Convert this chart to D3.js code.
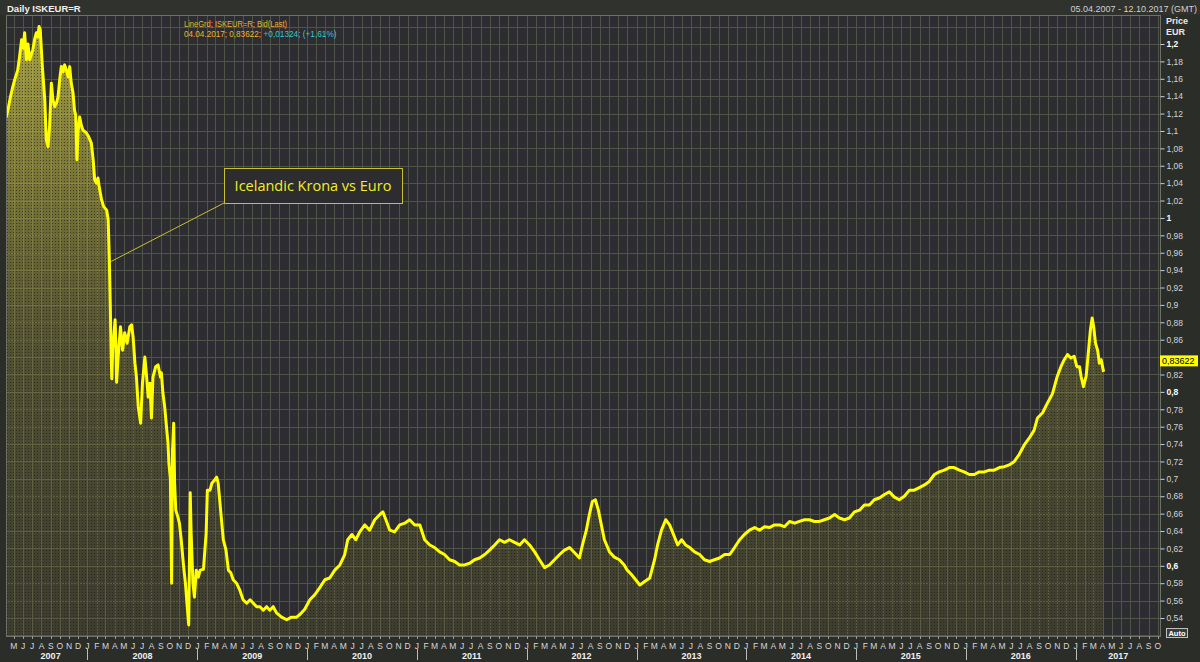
<!DOCTYPE html>
<html><head><meta charset="utf-8">
<script src="https://cdn.jsdelivr.net/npm/d3@7"></script>
<style>
html,body{margin:0;padding:0;background:#2b2d29;}
svg{display:block;}
</style></head><body>
<svg id="chart" width="1200" height="662"></svg>
<script>
// ---------- DATA ----------
const dates = [
"2007-04-05","2007-04-12","2007-04-19","2007-04-27","2007-05-04","2007-05-14","2007-05-20","2007-05-27","2007-06-01","2007-06-06",
"2007-06-12","2007-06-17","2007-06-23","2007-07-03","2007-07-09","2007-07-15","2007-07-20","2007-07-24","2007-07-28","2007-08-04",
"2007-08-12","2007-08-17","2007-08-23","2007-08-28","2007-09-03","2007-09-08","2007-09-14","2007-09-20","2007-09-25","2007-10-01",
"2007-10-06","2007-10-12","2007-10-17","2007-10-23","2007-10-29","2007-11-03","2007-11-08","2007-11-14","2007-11-19","2007-11-23",
"2007-11-27","2007-12-01","2007-12-06","2007-12-12","2007-12-17","2007-12-28","2008-01-04","2008-01-09","2008-01-14","2008-01-20",
"2008-01-25","2008-01-31","2008-02-05","2008-02-09","2008-02-17","2008-02-24","2008-03-05","2008-03-10","2008-03-14","2008-03-17",
"2008-03-20","2008-03-22","2008-03-25","2008-03-28","2008-04-02","2008-04-05","2008-04-07","2008-04-12","2008-04-20","2008-04-27",
"2008-05-04","2008-05-12","2008-05-21","2008-05-27","2008-06-01","2008-06-07","2008-06-12","2008-06-18","2008-06-26","2008-07-02",
"2008-07-10","2008-07-16","2008-07-21","2008-07-27","2008-08-01","2008-08-06","2008-08-15","2008-08-23","2008-08-31","2008-09-03",
"2008-09-08","2008-09-14","2008-09-20","2008-09-25","2008-09-28","2008-10-03","2008-10-07","2008-10-10","2008-10-14","2008-10-17",
"2008-10-21","2008-10-28","2008-11-02","2008-11-08","2008-11-16","2008-11-22","2008-11-27","2008-12-03","2008-12-08","2008-12-11",
"2008-12-17","2008-12-22","2008-12-28","2009-01-04","2009-01-10","2009-01-21","2009-01-30","2009-02-03","2009-02-12","2009-02-18",
"2009-02-28","2009-03-06","2009-03-11","2009-03-17","2009-03-23","2009-03-28","2009-04-06","2009-04-14","2009-04-22","2009-04-30",
"2009-05-11","2009-05-22","2009-06-02","2009-06-14","2009-06-25","2009-07-06","2009-07-17","2009-07-28","2009-08-08","2009-08-19",
"2009-08-30","2009-09-10","2009-09-21","2009-10-08","2009-10-25","2009-11-10","2009-11-27","2009-12-08","2009-12-24",
"2010-01-10","2010-01-27","2010-02-12","2010-03-01","2010-03-17","2010-04-03","2010-04-20","2010-05-06","2010-05-16","2010-05-30",
"2010-06-12","2010-06-25","2010-07-12","2010-07-28","2010-08-14","2010-08-31","2010-09-10","2010-09-20","2010-10-03","2010-10-19",
"2010-11-05","2010-11-22","2010-12-08","2010-12-25",
"2011-01-11","2011-01-27","2011-02-13","2011-03-01","2011-03-18","2011-04-03","2011-04-20","2011-05-07","2011-05-23","2011-06-09",
"2011-06-26","2011-07-12","2011-07-29","2011-08-15","2011-08-31","2011-09-17","2011-10-03","2011-10-20","2011-11-05","2011-11-22",
"2011-12-09","2011-12-25",
"2012-01-11","2012-01-28","2012-02-13","2012-03-01","2012-03-17","2012-04-03","2012-04-20","2012-05-06","2012-05-23","2012-06-09",
"2012-06-25","2012-07-05","2012-07-18","2012-07-28","2012-08-07","2012-08-17","2012-08-27","2012-09-06","2012-09-16","2012-10-03",
"2012-10-19","2012-11-05","2012-11-21","2012-12-01","2012-12-15","2012-12-29",
"2013-01-12","2013-01-28","2013-02-14","2013-03-02","2013-03-12","2013-03-25","2013-04-08","2013-04-21","2013-05-04","2013-05-18",
"2013-05-31","2013-06-13","2013-06-27","2013-07-13","2013-07-30","2013-08-15","2013-09-01","2013-09-17","2013-10-04","2013-10-21",
"2013-11-07","2013-11-23","2013-12-10","2013-12-26",
"2014-01-12","2014-01-29","2014-02-14","2014-03-03","2014-03-19","2014-04-05","2014-04-22","2014-05-08","2014-05-25","2014-06-11",
"2014-06-27","2014-07-14","2014-07-30","2014-08-16","2014-09-02","2014-09-18","2014-10-05","2014-10-22","2014-11-07","2014-11-24",
"2014-12-10","2014-12-27",
"2015-01-13","2015-01-29","2015-02-15","2015-03-03","2015-03-20","2015-04-06","2015-04-22","2015-05-09","2015-05-25","2015-06-11",
"2015-06-28","2015-07-14","2015-07-31","2015-08-17","2015-09-02","2015-09-19","2015-10-05","2015-10-22","2015-11-08","2015-11-24",
"2015-12-11","2015-12-27",
"2016-01-13","2016-01-30","2016-02-15","2016-03-03","2016-03-20","2016-04-05","2016-04-22","2016-05-09","2016-05-25","2016-06-11",
"2016-06-27","2016-07-14","2016-07-31","2016-08-16","2016-08-27","2016-09-13","2016-09-29","2016-10-16","2016-11-01","2016-11-13",
"2016-11-24","2016-12-05","2016-12-16","2016-12-27",
"2017-01-05","2017-01-14","2017-01-19","2017-01-27","2017-02-05","2017-02-13","2017-02-19","2017-02-25","2017-03-02","2017-03-08",
"2017-03-15","2017-03-21","2017-03-27","2017-04-04"
];
const values = [
1.115,1.125,1.138,1.150,1.159,1.170,1.185,1.205,1.195,1.213,
1.182,1.200,1.182,1.193,1.205,1.213,1.208,1.220,1.216,1.174,
1.136,1.090,1.082,1.105,1.155,1.136,1.128,1.132,1.139,1.160,
1.174,1.168,1.176,1.170,1.162,1.174,1.155,1.144,1.124,1.118,
1.067,1.100,1.116,1.106,1.101,1.098,1.094,1.090,1.086,1.067,
1.044,1.040,1.046,1.036,1.021,1.013,1.009,0.998,0.950,0.900,
0.840,0.815,0.850,0.860,0.883,0.850,0.811,0.840,0.875,0.848,
0.868,0.856,0.875,0.877,0.863,0.833,0.817,0.783,0.764,0.810,
0.840,0.817,0.794,0.810,0.770,0.817,0.829,0.831,0.817,0.822,
0.799,0.783,0.760,0.741,0.718,0.700,0.580,0.733,0.764,0.695,
0.664,0.656,0.649,0.630,0.599,0.580,0.557,0.532,0.684,0.638,
0.580,0.564,0.595,0.587,0.595,0.596,0.638,0.687,0.687,0.695,
0.699,0.702,0.695,0.672,0.649,0.630,0.618,0.595,0.592,0.584,
0.580,0.572,0.561,0.557,0.561,0.557,0.553,0.553,0.549,0.553,
0.549,0.553,0.546,0.541,0.538,0.541,0.541,0.544,0.550,
0.561,0.567,0.575,0.584,0.586,0.595,0.601,0.613,0.630,0.636,
0.630,0.639,0.647,0.641,0.653,0.659,0.662,0.653,0.641,0.639,
0.647,0.649,0.653,0.647,
0.647,0.630,0.624,0.621,0.616,0.613,0.607,0.605,0.601,0.601,
0.603,0.607,0.609,0.613,0.618,0.624,0.630,0.627,0.630,0.627,
0.624,0.630,
0.624,0.616,0.607,0.598,0.601,0.607,0.613,0.618,0.621,0.615,
0.609,0.624,0.641,0.659,0.674,0.676,0.664,0.647,0.630,0.616,
0.610,0.607,0.601,0.595,0.590,0.584,
0.578,0.582,0.586,0.607,0.624,0.641,0.653,0.647,0.636,0.624,
0.630,0.624,0.621,0.616,0.613,0.607,0.605,0.607,0.609,0.613,
0.613,0.621,0.630,0.636,
0.641,0.644,0.641,0.645,0.644,0.647,0.647,0.645,0.651,0.649,
0.651,0.653,0.653,0.651,0.651,0.653,0.655,0.659,0.655,0.653,
0.655,0.662,
0.664,0.670,0.670,0.676,0.678,0.682,0.685,0.679,0.676,0.680,
0.687,0.687,0.690,0.693,0.697,0.705,0.708,0.710,0.713,0.713,
0.710,0.708,
0.705,0.705,0.708,0.708,0.710,0.710,0.713,0.714,0.716,0.720,
0.728,0.739,0.747,0.756,0.770,0.776,0.787,0.798,0.818,0.829,
0.837,0.843,0.839,0.841,
0.829,0.829,0.818,0.806,0.818,0.848,0.871,0.885,0.875,0.856,
0.848,0.833,0.837,0.823
];
const yTickValues = [1.2,1.18,1.16,1.14,1.12,1.1,1.08,1.06,1.04,1.02,1,0.98,0.96,0.94,0.92,0.9,0.88,0.86,0.84,0.82,0.8,0.78,0.76,0.74,0.72,0.7,0.68,0.66,0.64,0.62,0.6,0.58,0.56,0.54];
const yBoldTicks = [1.2,1,0.8,0.6];
const monthLetters = ["J","F","M","A","M","J","J","A","S","O","N","D"];
const years = [2007,2008,2009,2010,2011,2012,2013,2014,2015,2016,2017];
const domainDates = ["2007-04-05","2017-10-12"];
const titleText = "Daily ISKEUR=R";
const rangeText = "05.04.2007 - 12.10.2017 (GMT)";
const legendLine1 = "LineGrd; ISKEUR=R; Bid(Last)";
const legendLine2a = "04.04.2017; 0,83622; ";
const legendLine2b = "+0,01324; (+1,61%)";
const lastValue = 0.83622;
const lastLabel = "0,83622";
const annotationText = "Icelandic Krona vs Euro";
const annotationTarget = ["2008-03-20", 0.95];

// ---------- LAYOUT ----------
const W = 1200, H = 662;
const plot = {left: 6, right: 1160, top: 15, bottom: 636};
const parse = d3.utcParse("%Y-%m-%d");
const data = dates.map((d, i) => ({date: parse(d), value: values[i]}));

const x = d3.scaleUtc().domain(domainDates.map(parse)).range([6, 1161]);
const y = d3.scaleLinear().domain([0.54, 1.2]).range([618, 44]);

const svg = d3.select("#chart");
const defs = svg.append("defs");

svg.append("rect").attr("width", W).attr("height", H).attr("fill", "#2b2d29");
svg.append("rect").attr("x", 0).attr("y", 0).attr("width", W).attr("height", 15).attr("fill", "#30322d");

// plot background
svg.append("rect").attr("x", plot.left).attr("y", plot.top)
  .attr("width", plot.right - plot.left).attr("height", plot.bottom - plot.top)
  .attr("fill", "#2d2c31");

defs.append("clipPath").attr("id", "plotClip").append("rect")
  .attr("x", plot.left).attr("y", plot.top)
  .attr("width", plot.right - plot.left).attr("height", plot.bottom - plot.top);

// grid
const gridG = svg.append("g").attr("clip-path", "url(#plotClip)").attr("shape-rendering", "crispEdges");
const monthTicks = x.ticks(d3.utcMonth.every(1));
gridG.selectAll("line.v").data(monthTicks).join("line")
  .attr("x1", d => Math.round(x(d)) + 0.5).attr("x2", d => Math.round(x(d)) + 0.5)
  .attr("y1", plot.top).attr("y2", plot.bottom)
  .attr("stroke", "#4f5449").attr("stroke-width", 1);
const gridVals = d3.range(26, 62).map(k => k * 0.02);
gridG.selectAll("line.h").data(gridVals).join("line")
  .attr("x1", plot.left).attr("x2", plot.right)
  .attr("y1", d => Math.round(y(d)) + 0.5).attr("y2", d => Math.round(y(d)) + 0.5)
  .attr("stroke", "#4f5449").attr("stroke-width", 1);

// fill gradient + dot texture
const grad = defs.append("linearGradient").attr("id", "areaGrad")
  .attr("gradientUnits", "userSpaceOnUse").attr("x1", 0).attr("x2", 0)
  .attr("y1", plot.top).attr("y2", plot.bottom);
[[0, "#dcd64a", 0.70], [0.25, "#bdb63e", 0.55], [0.55, "#929034", 0.36], [1, "#70702a", 0.24]]
  .forEach(s => grad.append("stop").attr("offset", s[0]).attr("stop-color", s[1]).attr("stop-opacity", s[2]));
const pat = defs.append("pattern").attr("id", "dots").attr("patternUnits", "userSpaceOnUse")
  .attr("width", 3).attr("height", 3);
pat.append("rect").attr("x", 1).attr("y", 1).attr("width", 1).attr("height", 1).attr("fill", "#1e1d18").attr("fill-opacity", 0.6);

const area = d3.area().x(d => x(d.date)).y0(plot.bottom).y1(d => y(d.value));
const line = d3.line().x(d => x(d.date)).y(d => y(d.value));
const plotG = svg.append("g").attr("clip-path", "url(#plotClip)");
plotG.append("path").datum(data).attr("d", area).attr("fill", "url(#areaGrad)");
plotG.append("path").datum(data).attr("d", area).attr("fill", "url(#dots)");
plotG.append("path").datum(data).attr("d", line).attr("fill", "none")
  .attr("stroke", "#ffff00").attr("stroke-width", 3).attr("stroke-linejoin", "round");

// plot frame
svg.append("rect").attr("x", plot.left + 0.5).attr("y", plot.top + 0.5)
  .attr("width", plot.right - plot.left).attr("height", plot.bottom - plot.top)
  .attr("fill", "none").attr("stroke", "#6e7168").attr("shape-rendering", "crispEdges");

// annotation
const ann = {x: 224, y: 168, w: 178, h: 35};
svg.append("line").attr("x1", ann.x).attr("y1", ann.y + ann.h)
  .attr("x2", x(parse(annotationTarget[0]))).attr("y2", y(annotationTarget[1]))
  .attr("stroke", "#c8c030").attr("stroke-width", 1);
svg.append("rect").attr("x", ann.x + 0.5).attr("y", ann.y + 0.5).attr("width", ann.w).attr("height", ann.h)
  .attr("fill", "#2d2c2f").attr("stroke", "#c8c030").attr("stroke-width", 1);
svg.append("text").attr("x", ann.x + ann.w / 2).attr("y", ann.y + ann.h / 2 + 5.5)
  .attr("text-anchor", "middle").attr("font-family", "'Open Sans', sans-serif").attr("font-size", 14.5)
  .attr("fill", "#f2ee2a").text(annotationText);

// header texts
const lf = "'Liberation Sans', Arial, sans-serif";
svg.append("text").attr("x", 7).attr("y", 11.5).attr("font-family", lf)
  .attr("font-size", 9.5).attr("font-weight", "bold").attr("fill", "#f0f0f0").text(titleText);
svg.append("text").attr("x", 1197).attr("y", 11.5).attr("text-anchor", "end")
  .attr("font-family", lf).attr("font-size", 9)
  .attr("fill", "#d0d0d0").text(rangeText);
svg.append("text").attr("x", 184).attr("y", 26.5).attr("font-family", lf).attr("font-size", 8.5)
  .attr("fill", "#eab52a").attr("textLength", 103).attr("lengthAdjust", "spacingAndGlyphs").text(legendLine1);
svg.append("text").attr("x", 184).attr("y", 37).attr("font-family", lf).attr("font-size", 8.5)
  .attr("fill", "#eab52a").attr("textLength", 77).attr("lengthAdjust", "spacingAndGlyphs").text(legendLine2a);
svg.append("text").attr("x", 263.5).attr("y", 37).attr("font-family", lf).attr("font-size", 8.5)
  .attr("fill", "#36c6d2").attr("textLength", 73).attr("lengthAdjust", "spacingAndGlyphs").text(legendLine2b);

// right axis (the tick label under the last-value tag is covered by it, as in the reference)
const ly = y(lastValue);
const fmt = v => Math.abs(y(v) - ly) < 7 ? "" : (+v.toFixed(2)).toString().replace(".", ",");
const yAxis = d3.axisRight(y).tickValues(yTickValues).tickSize(4).tickPadding(2).tickFormat(fmt);
const yg = svg.append("g").attr("transform", `translate(${plot.right + 0.5},0)`).call(yAxis);
yg.select(".domain").remove();
yg.selectAll(".tick line").attr("stroke", "#cfcfcf");
yg.selectAll(".tick text").attr("font-family", lf).attr("font-size", 8.5)
  .attr("fill", d => yBoldTicks.includes(d) ? "#ffffff" : "#d4d4d4")
  .attr("font-weight", d => yBoldTicks.includes(d) ? "bold" : "normal");
svg.append("text").attr("x", 1166).attr("y", 24).attr("font-family", lf).attr("font-size", 9)
  .attr("font-weight", "bold").attr("fill", "#e8e8e8").text("Price");
svg.append("text").attr("x", 1166).attr("y", 35).attr("font-family", lf).attr("font-size", 9)
  .attr("font-weight", "bold").attr("fill", "#e8e8e8").text("EUR");

// last value tag
svg.append("rect").attr("x", 1160).attr("y", ly - 5).attr("width", 38).attr("height", 11).attr("fill", "#ffff00");
svg.append("text").attr("x", 1162).attr("y", ly + 3.5).attr("font-family", lf).attr("font-size", 9)
  .attr("fill", "#000").text(lastLabel);

// Auto box
svg.append("rect").attr("x", 1166.5).attr("y", 628.5).attr("width", 21).attr("height", 9)
  .attr("fill", "#3a3c37").attr("stroke", "#bfbfbf");
svg.append("text").attr("x", 1177).attr("y", 636).attr("text-anchor", "middle").attr("font-family", lf)
  .attr("font-size", 7.5).attr("font-weight", "bold").attr("fill", "#ffffff").text("Auto");

// x axis: month ticks + letters
const xg = svg.append("g");
xg.selectAll("line.mt").data(monthTicks).join("line")
  .attr("x1", d => Math.round(x(d)) + 0.5).attr("x2", d => Math.round(x(d)) + 0.5)
  .attr("y1", plot.bottom).attr("y2", plot.bottom + 3).attr("stroke", "#9a9a9a").attr("shape-rendering", "crispEdges");
xg.selectAll("text.ml").data(monthTicks).join("text")
  .attr("x", d => x(d)).attr("y", 648.5).attr("text-anchor", "middle")
  .attr("font-family", lf).attr("font-size", 8.5).attr("fill", "#d8d8d8")
  .text(d => monthLetters[d.getUTCMonth()]);
// year separators and labels
const yearStarts = years.map(yr => new Date(Date.UTC(yr, 0, 1)));
xg.selectAll("line.ys").data(yearStarts.filter(d => x(d) > plot.left + 2)).join("line")
  .attr("x1", d => Math.round(x(d)) + 0.5).attr("x2", d => Math.round(x(d)) + 0.5)
  .attr("y1", 649).attr("y2", 660).attr("stroke", "#bcbcbc").attr("shape-rendering", "crispEdges");
xg.selectAll("text.yl").data(years).join("text")
  .attr("x", yr => {
    const s = Math.max(x(new Date(Date.UTC(yr, 0, 1))), x(monthTicks[0]));
    const e = Math.min(x(new Date(Date.UTC(yr + 1, 0, 1))), x.range()[1]);
    return (s + e) / 2;
  })
  .attr("y", 658.5).attr("text-anchor", "middle").attr("font-family", lf).attr("font-size", 9)
  .attr("font-weight", "bold").attr("fill", "#f0f0f0").text(yr => yr);
</script>
</body></html>
